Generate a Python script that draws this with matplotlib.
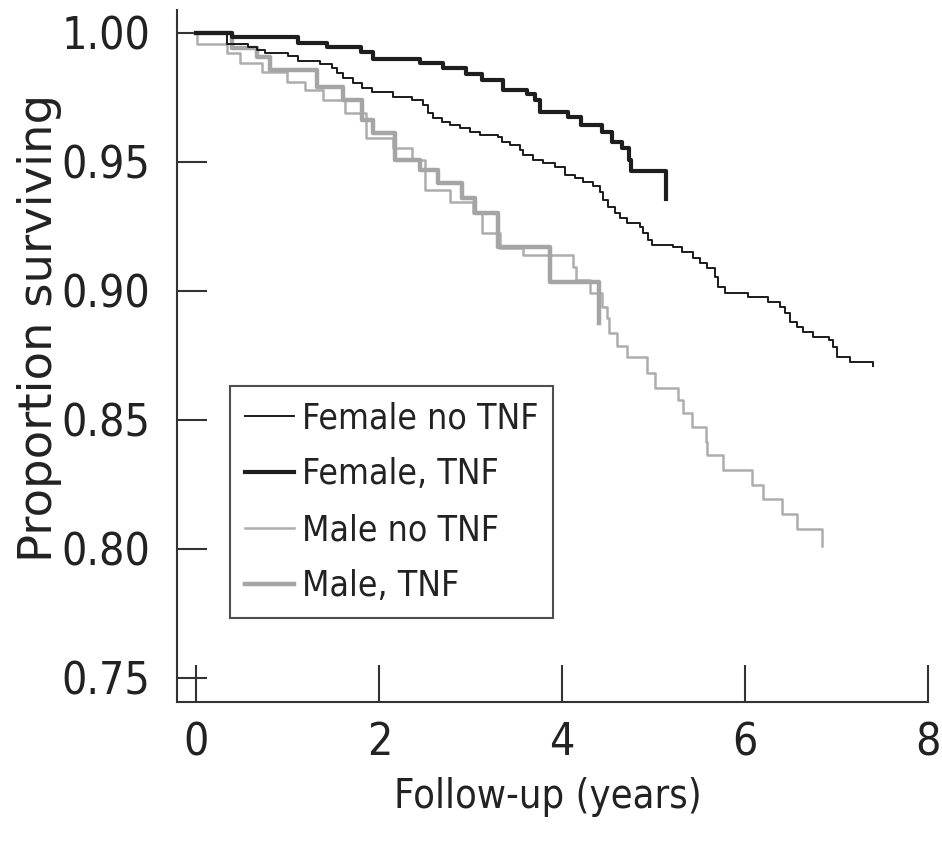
import matplotlib.pyplot as plt
from matplotlib import font_manager

# Kaplan-Meierove krivky odcitane z obrazku (cas v rokoch, podiel preziva)
female_no_tnf_t = [0, 0.333, 0.563, 0.661, 0.749, 1.000, 1.109, 1.350, 1.481, 1.536, 1.601,
                   1.710, 1.809, 1.918, 2.148, 2.355, 2.475, 2.530, 2.585, 2.683, 2.770,
                   2.880, 2.989, 3.098, 3.295, 3.339, 3.426, 3.536, 3.568, 3.678, 3.787,
                   3.918, 4.027, 4.137, 4.224, 4.333, 4.410, 4.443, 4.497, 4.574, 4.628,
                   4.705, 4.847, 4.880, 4.934, 4.978, 5.208, 5.306, 5.426, 5.503, 5.579,
                   5.667, 5.699, 5.776, 6.027, 6.246, 6.377, 6.432, 6.486, 6.563, 6.628,
                   6.738, 6.923, 6.956, 7.000, 7.142, 7.404]
female_no_tnf_s = [1.0, 0.9957, 0.9946, 0.9934, 0.9922, 0.9911, 0.9891, 0.9880, 0.9864, 0.9845, 0.9826,
                   0.9806, 0.9787, 0.9771, 0.9752, 0.9740, 0.9721, 0.9690, 0.9671, 0.9655, 0.9643,
                   0.9632, 0.9616, 0.9605, 0.9597, 0.9578, 0.9566, 0.9547, 0.9527, 0.9508, 0.9496,
                   0.9481, 0.9450, 0.9438, 0.9422, 0.9407, 0.9384, 0.9353, 0.9326, 0.9302, 0.9283,
                   0.9264, 0.9248, 0.9225, 0.9198, 0.9178, 0.9171, 0.9151, 0.9128, 0.9109, 0.9089,
                   0.9054, 0.9016, 0.8992, 0.8977, 0.8957, 0.8938, 0.8915, 0.8880, 0.8860, 0.8841,
                   0.8822, 0.8810, 0.8783, 0.8744, 0.8725, 0.8709]

female_tnf_t = [0, 0.39, 1.11, 1.43, 1.80, 1.93, 2.45, 2.70, 2.95, 3.12, 3.35, 3.62, 3.70,
                3.76, 4.06, 4.21, 4.43, 4.54, 4.65, 4.73, 4.75, 5.13]
female_tnf_s = [1.0, 0.9985, 0.996, 0.9946, 0.9926, 0.990, 0.9885, 0.9865, 0.984, 0.9818, 0.978,
                0.9765, 0.974, 0.9694, 0.9674, 0.9643, 0.9616, 0.9578, 0.9554, 0.9508, 0.9465, 0.9357]

male_no_tnf_t = [0, 0.01, 0.333, 0.475, 0.716, 0.989, 1.186, 1.383, 1.623, 1.852, 2.148, 2.355,
                 2.497, 2.770, 3.022, 3.120, 3.317, 3.568, 4.115, 4.148, 4.301, 4.432, 4.486,
                 4.508, 4.596, 4.705, 4.923, 5.011, 5.262, 5.317, 5.415, 5.568, 5.579, 5.754,
                 6.071, 6.191, 6.399, 6.563, 6.836]
male_no_tnf_s = [1.0, 0.9957, 0.9922, 0.9884, 0.9849, 0.9810, 0.9779, 0.9740, 0.9690, 0.9593, 0.9554,
                 0.9508, 0.9391, 0.9345, 0.9302, 0.9225, 0.9167, 0.9140, 0.9093, 0.9043, 0.8992,
                 0.8938, 0.8895, 0.8837, 0.8787, 0.8744, 0.8682, 0.8624, 0.8578, 0.8527, 0.8473,
                 0.8415, 0.8364, 0.8306, 0.8248, 0.8194, 0.8136, 0.8078, 0.8012]

male_tnf_t = [0, 0.388, 0.661, 0.803, 1.317, 1.601, 1.809, 1.929, 2.169, 2.443, 2.639, 2.902,
              3.044, 3.295, 3.863, 4.399]
male_tnf_s = [1.0, 0.9942, 0.9907, 0.9857, 0.9791, 0.9740, 0.9663, 0.9612, 0.9508, 0.9469, 0.9419,
              0.9360, 0.9302, 0.9171, 0.9035, 0.8876]

x_ticks = [0, 2, 4, 6, 8]
y_ticks = [0.75, 0.80, 0.85, 0.90, 0.95, 1.00]

# Hladame uzky (condensed) font, inak zmensime pismo
uzke = [f for f in font_manager.fontManager.ttflist
        if ('Narrow' in f.name or 'Condensed' in f.name or 'condensed' in str(f.stretch))
        and f.style == 'normal' and f.weight in (400, 'normal', 'regular', 'book')]
if uzke:
    plt.rcParams['font.family'] = [uzke[0].name, 'DejaVu Sans']
    plt.rcParams['font.stretch'] = uzke[0].stretch
    mierka = 1.0
else:
    plt.rcParams['font.family'] = ['DejaVu Sans']
    mierka = 0.78

fig = plt.figure(figsize=(9.42, 8.42), dpi=100)
ax = fig.add_axes([0.1879, 0.1663, 0.7972, 0.8219])

ax.step(male_no_tnf_t, male_no_tnf_s, where='post', color='#adadad', lw=1.8, label='Male no TNF', zorder=2)
ax.step(male_tnf_t, male_tnf_s, where='post', color='#a5a5a5', lw=3.2, label='Male, TNF', zorder=3)
ax.step(female_no_tnf_t, female_no_tnf_s, where='post', color='#1a1a1a', lw=1.4, label='Female no TNF', zorder=4)
ax.step(female_tnf_t, female_tnf_s, where='post', color='#1e1e1e', lw=3.0, label='Female, TNF', zorder=5)

ax.set_xlim(-0.213, 8.0)
ax.set_ylim(0.7407, 1.0089)
ax.set_xticks(x_ticks)
ax.set_yticks(y_ticks)
ax.set_xticklabels([str(v) for v in x_ticks])
ax.set_yticklabels([f'{v:.2f}' for v in y_ticks])

for s in ['top', 'right']:
    ax.spines[s].set_visible(False)
for s in ['left', 'bottom']:
    ax.spines[s].set_color('#333333')
    ax.spines[s].set_linewidth(1.5)

ax.tick_params(axis='x', direction='in', length=26.6, width=1.5, color='#333333',
               labelsize=32 * mierka, pad=14, labelcolor='#222222')
ax.tick_params(axis='y', direction='in', length=21.6, width=1.5, color='#333333',
               labelsize=32 * mierka, pad=19, labelcolor='#222222')

ax.set_xlabel('Follow-up (years)', fontsize=28.5 * mierka, color='#222222')
# popis osi y je v originali sirsi - pouzijeme nezuzene pismo
ax.set_ylabel('Proportion surviving', fontsize=33.5, color='#222222',
              family='DejaVu Sans', fontstretch='normal')
ax.xaxis.set_label_coords(0.494, -0.108)
ax.yaxis.set_label_coords(-0.153, 0.54)

h, l = ax.get_legend_handles_labels()
poradie = [2, 3, 0, 1]
leg = ax.legend([h[i] for i in poradie], [l[i] for i in poradie],
                loc='lower left', bbox_to_anchor=(0.0706, 0.1214), borderaxespad=0,
                fontsize=25.5 * mierka, frameon=True, fancybox=False, handlelength=1.38,
                handletextpad=0.22, labelspacing=0.62, borderpad=0.42)
leg.get_frame().set_edgecolor('#222222')
leg.get_frame().set_linewidth(1.5)
for t in leg.get_texts():
    t.set_color('#222222')

plt.savefig('out.png', dpi=100)
